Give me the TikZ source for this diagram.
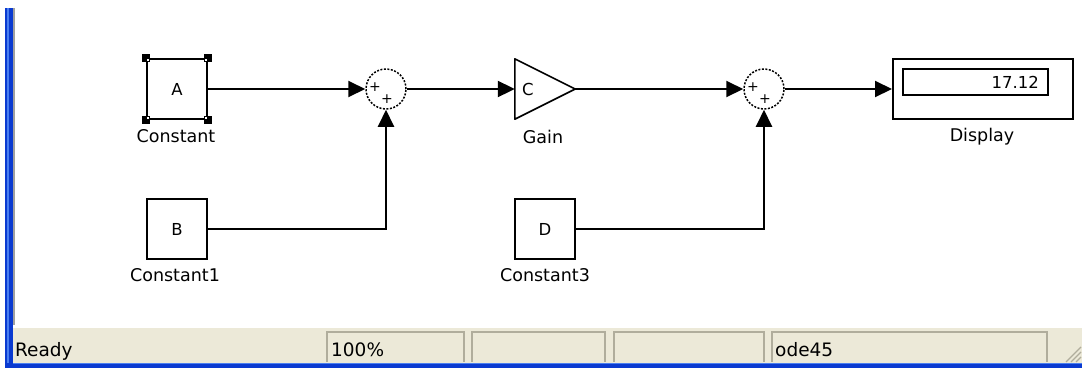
\documentclass[tikz,border=0pt]{standalone}
\usepackage{fontspec}
\setmainfont{DejaVu Sans}
\usetikzlibrary{arrows.meta,calc}
\definecolor{xpgrey}{HTML}{ECE9D8}
\definecolor{xpblue}{HTML}{0A3AD0}
\definecolor{xplight}{HTML}{4A7EF0}
\definecolor{boxedge}{HTML}{B0AD9C}
\definecolor{winline}{HTML}{A0A0A0}
\tikzset{
  wire/.style={line width=2pt, black},
  sig/.style={wire, -{Triangle[length=17pt,width=16pt]}},
  blockbox/.style={draw, line width=2pt, minimum width=60pt, minimum height=60pt, inner sep=0pt, font=\fontsize{16.5}{16.5}\selectfont},
  sumnode/.style={circle, draw, dash pattern=on 2pt off 1.5pt, line width=1.5pt, minimum size=40pt, inner sep=0pt},
  lbl/.style={font=\fontsize{17.5}{17.5}\selectfont, inner sep=0pt},
  plus/.style={font=\fontsize{14}{14}\selectfont, inner sep=0pt},
  stxt/.style={font=\fontsize{18.5}{18.5}\selectfont, inner sep=0pt, anchor=base west},
  sbox/.style={draw=boxedge, line width=1.3pt},
  handle/.style={fill=black, minimum size=8pt, inner sep=0pt}
}
\begin{document}
\begin{tikzpicture}[x=1pt,y=-1pt]
\useasboundingbox (0,0) rectangle (1082,368);
\fill[white] (0,0) rectangle (1082,368);
% window frame
\fill[xpblue] (5,8) rectangle (13,368);
\fill[xplight] (7,8) rectangle (9,368);
\fill[winline] (13,8) rectangle (15,325);
% status bar
\fill[xpgrey] (13,328) rectangle (1082,363);
\draw[line width=1pt, white] (13,327.5) -- (1082,327.5);
\fill[xpblue] (5,363) rectangle (1082,368);
\draw[line width=1pt, xplight] (13,363.5) -- (1082,363.5);
\draw[sbox] (327,362) |- (464,332) -- (464,362);
\draw[sbox] (472,362) |- (605,332) -- (605,362);
\draw[sbox] (614,362) |- (764,332) -- (764,362);
\draw[sbox] (772,362) |- (1047,332) -- (1047,362);
\foreach \d in {0,5,10}{
  \draw[line width=1.2pt, boxedge] (1066+\d,362) -- (1081,347+\d);
}
\node[stxt] (ready) at (15,356) {Ready};
\node[stxt] (zoom) at (331,356) {100\%};
\node[stxt] (solver) at (775,356) {ode45};
% blocks
\node[blockbox] (A) at (177,89) {A};
\node[blockbox] (B) at (177,229) {B};
\node[blockbox] (D) at (545,229) {D};
\node[lbl] (Alab) at (176,136) {Constant};
\node[lbl] (Blab) at (175,275) {Constant1};
\node[lbl] (Dlab) at (545,275) {Constant3};
\foreach \c in {north west,north east,south west,south east}{
  \node[handle] at (A.\c) {};
}
\fill[white] ($(A.north west)+(1,1)$) rectangle +(2,2);
\fill[white] ($(A.north east)+(-1,1)$) rectangle +(-2,2);
\fill[white] ($(A.south west)+(1,-1)$) rectangle +(2,-2);
\fill[white] ($(A.south east)+(-1,-1)$) rectangle +(-2,-2);
\node[sumnode] (s1) at (386,89) {};
\node[plus] at (375,87) {+};
\node[plus] at (387,99) {+};
\node[sumnode] (s2) at (764,89) {};
\node[plus] at (753,87) {+};
\node[plus] at (765,99) {+};
% gain
\node[minimum width=60pt, minimum height=60pt, inner sep=0pt] (g) at (545,89) {};
\draw[line width=1.6pt, line join=round] (g.north west) -- (g.east) -- (g.south west) -- cycle;
\node[font=\fontsize{16.5}{16.5}\selectfont, inner sep=0pt] (gc) at (528,89) {C};
\node[lbl] (glab) at (543,137) {Gain};
% display
\node[draw, line width=2pt, minimum width=180pt, minimum height=60pt, inner sep=0pt] (disp) at (983,89) {};
\node[draw, line width=2pt, minimum width=145pt, minimum height=26pt, inner sep=0pt] (dval) at (975.5,82) {};
\node[font=\fontsize{16.5}{16.5}\selectfont, inner sep=0pt, anchor=east] (val) at (1039,82) {17.12};
\node[lbl] (dlab) at (982,137) {Display};
% wires
\draw[sig] (A.east) -- (s1.west);
\draw[sig] (B.east) -| (s1.south);
\draw[sig] (s1.east) -- (g.west);
\draw[sig] (g.east) -- (s2.west);
\draw[sig] (D.east) -| (s2.south);
\draw[sig] (s2.east) -- (disp.west);
\end{tikzpicture}
\end{document}
